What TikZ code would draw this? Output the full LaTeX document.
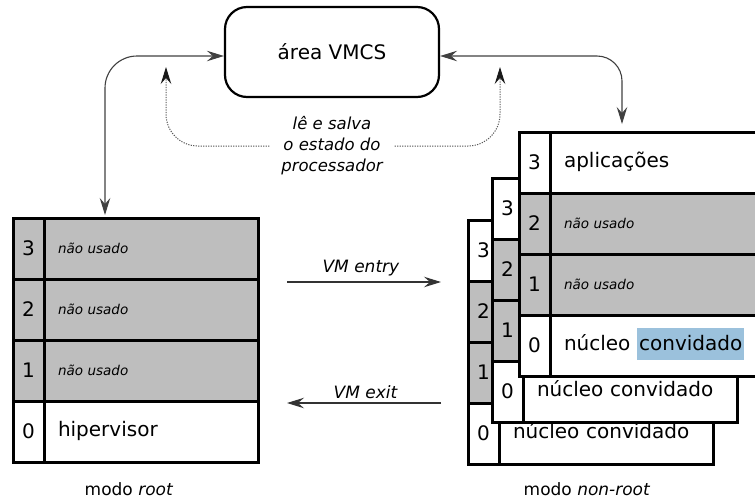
\documentclass[tikz,border=0pt]{standalone}
\usepackage{fontspec}
\setmainfont{DejaVu Sans}
\usetikzlibrary{arrows.meta}
\definecolor{unused}{HTML}{BEBEBE}
\definecolor{hlblue}{HTML}{9BC1DC}
\setlength\fboxsep{2pt}

\begin{document}
\begin{tikzpicture}[x=1pt,y=-1pt,
  every node/.style={font=\fontsize{20}{24}\selectfont},
  numcell/.style={draw, line width=3pt, minimum width=31pt, minimum height=61pt,
    inner sep=0pt, outer sep=0pt, anchor=north west},
  txtcell/.style={draw, line width=3pt, minimum width=214pt, minimum height=61pt,
    inner xsep=14pt, inner ysep=0pt, text width=186pt, align=left,
    text height=14pt, text depth=4pt, outer sep=0pt, anchor=north west},
  used/.style={fill=white},
  free/.style={fill=unused},
  small/.style={font=\fontsize{13.5}{16}\selectfont\itshape},
  tip/.tip={Stealth[length=17pt,width=10.5pt,inset=6pt]},
  link/.style={draw=black!80, line width=1.1pt, -tip},
  twoway/.style={draw=black!75, line width=1.1pt, tip-tip},
  dotlink/.style={draw=black!65, line width=1pt, dash pattern=on 1.2pt off 1.3pt,
    -{Stealth[length=17pt,width=10.5pt,inset=6pt,black!90]}},
  caption/.style={font=\fontsize{17}{20}\selectfont},
  edgelabel/.style={font=\fontsize{17}{20}\selectfont\itshape}
]
\useasboundingbox (0,0) rectangle (755,499);
\clip (0,0) rectangle (755,499);

% VMCS area
\node[draw, line width=2.2pt, rounded corners=22pt, minimum width=214pt, minimum height=90pt,
  font=\fontsize{20}{24}\selectfont] (vmcs) at (332,52) {área VMCS};

% root mode rings
\node[numcell,free] (rt3n) at (13,218) {3};
\node[txtcell,free,small] (rt3) at (rt3n.north east) {não usado};
\node[numcell,free] (rt2n) at (rt3n.south west) {2};
\node[txtcell,free,small] (rt2) at (rt2n.north east) {não usado};
\node[numcell,free] (rt1n) at (rt2n.south west) {1};
\node[txtcell,free,small] (rt1) at (rt1n.north east) {não usado};
\node[numcell,used] (rt0n) at (rt1n.south west) {0};
\node[txtcell,used] (rt0) at (rt0n.north east) {hipervisor};
\node[caption] (mroot) at (129,489) {modo \textit{root}};

% non-root mode: back guest
\node[numcell,used] (ga3n) at (468,220) {3};
\node[txtcell,used] (ga3) at (ga3n.north east) {};
\node[numcell,free] (ga2n) at (ga3n.south west) {2};
\node[txtcell,free] (ga2) at (ga2n.north east) {};
\node[numcell,free] (ga1n) at (ga2n.south west) {1};
\node[txtcell,free] (ga1) at (ga1n.north east) {};
\node[numcell,used] (ga0n) at (ga1n.south west) {0};
\node[txtcell,used] (ga0) at (ga0n.north east) {núcleo convidado};

% non-root mode: middle guest
\node[numcell,used] (gb3n) at (492,178) {3};
\node[txtcell,used] (gb3) at (gb3n.north east) {};
\node[numcell,free] (gb2n) at (gb3n.south west) {2};
\node[txtcell,free] (gb2) at (gb2n.north east) {};
\node[numcell,free] (gb1n) at (gb2n.south west) {1};
\node[txtcell,free] (gb1) at (gb1n.north east) {};
\node[numcell,used] (gb0n) at (gb1n.south west) {0};
\node[txtcell,used] (gb0) at (gb0n.north east) {núcleo convidado};

% non-root mode: front guest
\node[numcell,used] (gc3n) at (519,132) {3};
\node[txtcell,used] (gc3) at (gc3n.north east) {aplicações};
\node[numcell,free] (gc2n) at (gc3n.south west) {2};
\node[txtcell,free,small] (gc2) at (gc2n.north east) {não usado};
\node[numcell,free] (gc1n) at (gc2n.south west) {1};
\node[txtcell,free,small] (gc1) at (gc1n.north east) {não usado};
\node[numcell,used] (gc0n) at (gc1n.south west) {0};
\node[txtcell,used] (gc0) at (gc0n.north east)
  {núcleo \colorbox{hlblue}{\rule[-7pt]{0pt}{28pt}convidado}};
\node[caption] (mguest) at (587,489) {modo \textit{non-root}};

% links to the VMCS area
\coordinate (rootin) at (105,215);
\coordinate (guestin) at (622,124);
\draw[twoway, rounded corners=32pt] (rootin) |- ([yshift=-4pt]vmcs.west);
\draw[twoway, rounded corners=25pt] ([yshift=-4pt]vmcs.east) -| (guestin);

% processor state load/save
\node[font=\fontsize{16.5}{21}\selectfont\itshape, align=center, inner sep=0pt,
  minimum width=125pt] (state) at (332,146) {lê e salva\\o estado do\\processador};
\coordinate (dotL) at (166,67);
\coordinate (dotR) at (500,67);
\draw[dotlink, rounded corners=32pt] (state.west) -| (dotL);
\draw[dotlink, rounded corners=32pt] (state.east) -| (dotR);

% transitions
\coordinate (entryA) at (287,282);
\coordinate (entryB) at (441,282);
\coordinate (exitA) at (441,403);
\coordinate (exitB) at (287,403);
\draw[link] (entryA) -- (entryB) node[edgelabel, pos=0.48, above=2pt] (entry) {VM entry};
\draw[link] (exitA) -- (exitB) node[edgelabel, pos=0.49, above=0pt] (exit) {VM exit};
\end{tikzpicture}
\end{document}
